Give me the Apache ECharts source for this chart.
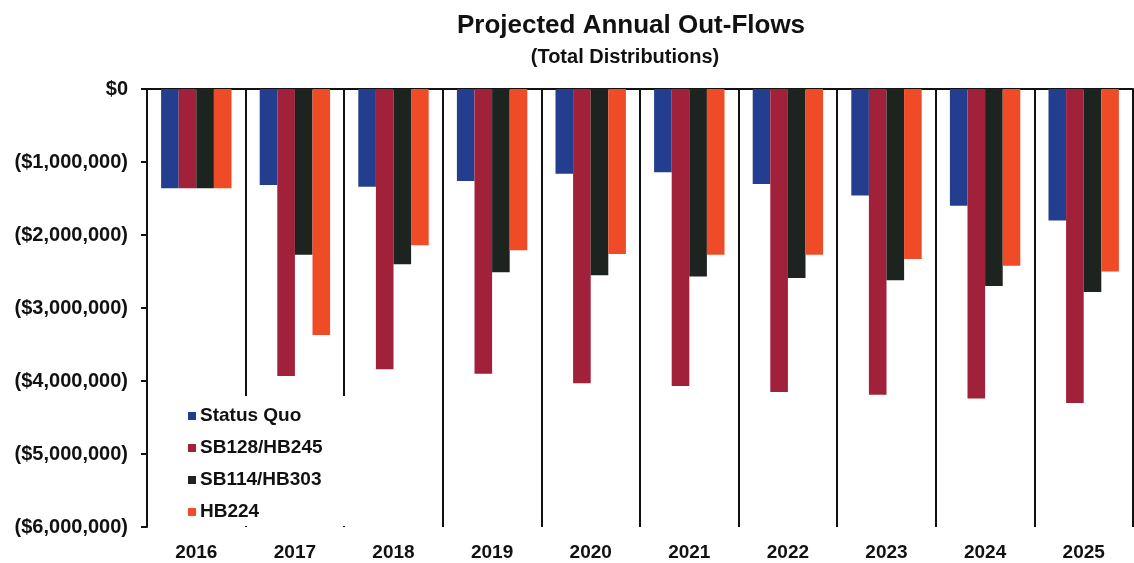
<!DOCTYPE html>
<html>
<head>
<meta charset="utf-8">
<script src="https://cdn.jsdelivr.net/npm/echarts@6/dist/echarts.min.js"></script>
<style>
html,body{margin:0;padding:0;background:#fff;}
#chart{width:1134px;height:563px;}
</style>
</head>
<body>
<div id="chart"></div>
<script>
const years = ['2016','2017','2018','2019','2020','2021','2022','2023','2024','2025'];
const seriesNames = ['Status Quo','SB128/HB245','SB114/HB303','HB224'];
const statusQuo = [-1360000,-1315000,-1340000,-1260000,-1160000,-1140000,-1300000,-1460000,-1600000,-1800000];
const sb128 = [-1360000,-3930000,-3840000,-3900000,-4030000,-4070000,-4150000,-4190000,-4240000,-4300000];
const sb114 = [-1360000,-2270000,-2400000,-2510000,-2550000,-2570000,-2590000,-2620000,-2700000,-2780000];
const hb224 = [-1360000,-3370000,-2140000,-2210000,-2260000,-2270000,-2270000,-2330000,-2420000,-2500000];
const colors = ['#233e8e','#a1203a','#1d231f','#ee4b26'];

const FONT = "'Liberation Sans', Arial, sans-serif";
function fmt(v){
  if (v === 0) return '$0';
  const s = Math.abs(v).toString().replace(/\B(?=(\d{3})+(?!\d))/g, ',');
  return v < 0 ? '($' + s + ')' : '$' + s;
}
const values = [statusQuo, sb128, sb114, hb224];
const chart = echarts.init(document.getElementById('chart'));
chart.setOption({
  backgroundColor: '#fff',
  animation: false,
  title: [
    {text: 'Projected Annual Out-Flows', left: 626, top: 8, textAlign: 'center',
     textStyle: {fontFamily: FONT, fontWeight: 'bold', fontSize: 26, color: '#111'}},
    {text: '(Total Distributions)', left: 620, top: 42, textAlign: 'center',
     textStyle: {fontFamily: FONT, fontWeight: 'bold', fontSize: 20, color: '#111'}}
  ],
  legend: {
    orient: 'vertical', left: 176, top: 396,
    padding: [10, 36, 4, 12],
    backgroundColor: '#fff',
    itemWidth: 8, itemHeight: 8, itemGap: 12,
    icon: 'rect',
    data: seriesNames,
    textStyle: {fontFamily: FONT, fontWeight: 'bold', fontSize: 19, color: '#111', lineHeight: 20, padding: [0,0,0,-1]}
  },
  grid: {left: 147, right: 1, top: 89, bottom: 36, containLabel: false},
  xAxis: [
    {type: 'category', data: years, position: 'bottom',
     axisLine: {show: false}, axisTick: {show: false},
     axisLabel: {fontFamily: FONT, fontWeight: 'bold', fontSize: 19, color: '#111', margin: 16},
     splitLine: {show: true, lineStyle: {color: '#111', width: 2}}},
    {type: 'category', data: years, position: 'top',
     axisLine: {show: true, onZero: false, lineStyle: {color: '#111', width: 2}},
     axisTick: {show: false}, axisLabel: {show: false}, splitLine: {show: false}}
  ],
  yAxis: {
    type: 'value', min: -6000000, max: 0, interval: 1000000,
    axisLine: {show: true, lineStyle: {color: '#111', width: 2}},
    axisTick: {show: true, length: 6, lineStyle: {color: '#111', width: 2}},
    splitLine: {show: false},
    axisLabel: {formatter: fmt, fontFamily: FONT, fontWeight: 'bold', fontSize: 20, color: '#111', margin: 19}
  },
  series: seriesNames.map((n, i) => ({
    name: n, type: 'bar', xAxisIndex: 0, data: values[i],
    barWidth: 17.6, barGap: '0%',
    itemStyle: {color: colors[i]}
  }))
});
</script>
</body>
</html>
